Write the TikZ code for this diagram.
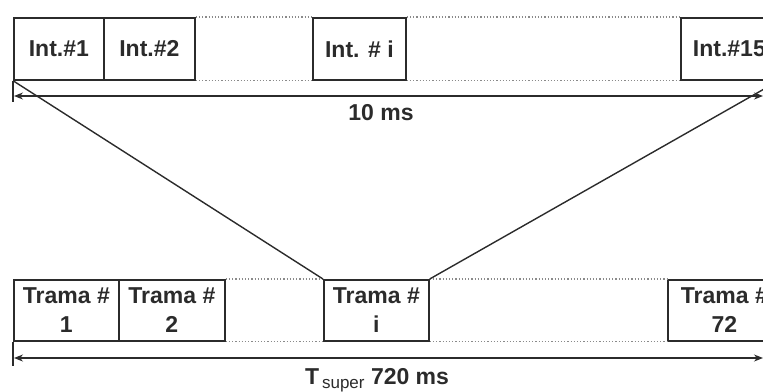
\documentclass[tikz,border=0pt]{standalone}
\usepackage{fontspec}
\setmainfont{Liberation Sans}
\usetikzlibrary{arrows.meta}
\definecolor{ink}{HTML}{2B2B2B}
\definecolor{dots}{HTML}{8A8A8A}
\begin{document}
\begin{tikzpicture}[x=1pt,y=-1pt,
  slot/.style={draw=ink, line width=1.7pt, minimum height=62pt, inner sep=0pt,
    anchor=north west, text=ink, align=center,
    font=\fontsize{23}{29}\selectfont\bfseries},
  gap/.style={draw=dots, line width=1.2pt, dotted},
  span/.style={draw=ink, line width=1.3pt,
    {Stealth[length=9pt,width=7pt]}-{Stealth[length=9pt,width=7pt]}},
  tick/.style={draw=ink, line width=1.3pt},
  fan/.style={draw=ink, line width=1.4pt},
  lbl/.style={text=ink, inner sep=0pt, font=\fontsize{23}{28}\selectfont\bfseries}]
\useasboundingbox (0,0) rectangle (763,391);
\clip (0,0) rectangle (763,391);

% intervals of one frame
\node[slot, minimum width=90pt] (i1)  at (13,17)  {Int.\#1};
\node[slot, minimum width=91pt] (i2)  at (103,17) {Int.\#2};
\node[slot, minimum width=93pt] (ii)  at (312,17) {Int. \# i};
\node[slot, minimum width=97pt] (i15) at (680,17) {Int.\#15};

% frames of the superframe
\node[slot, minimum width=105pt, minimum height=61pt] (t1)  at (13,279)  {Trama \#\\1};
\node[slot, minimum width=106pt, minimum height=61pt] (t2)  at (118,279) {Trama \#\\2};
\node[slot, minimum width=105pt, minimum height=61pt] (ti)  at (323,279) {Trama \#\\i};
\node[slot, minimum width=113pt, minimum height=61pt] (t72) at (667,279) {Trama \#\\72};

% dotted gaps between boxes
\draw[gap] (i2.north east) -- (ii.north west);
\draw[gap] (i2.south east) -- (ii.south west);
\draw[gap] (ii.north east) -- (i15.north west);
\draw[gap] (ii.south east) -- (i15.south west);
\draw[gap] (t2.north east) -- (ti.north west);
\draw[gap] (t2.south east) -- (ti.south west);
\draw[gap] (ti.north east) -- (t72.north west);
\draw[gap] (ti.south east) -- (t72.south west);

% expansion of frame i
\draw[fan] (i1.south west) -- (ti.north west);
\draw[fan] (i15.south east) -- (ti.north east);

% duration of one frame
\coordinate (k1) at (13,102);
\draw[tick] (i1.south west) -- (k1);
\coordinate (l1) at (14,96);
\coordinate (r1) at (763,96);
\draw[span] (l1) -- (r1);
\node[lbl] (d1) at (381,113) {10 ms};

% duration of the superframe
\coordinate (k2) at (13,366);
\draw[tick] (t1.south west) -- (k2);
\coordinate (l2) at (14,358);
\coordinate (r2) at (763,358);
\draw[span] (l2) -- (r2);
\node[lbl, anchor=base west] (d2) at (305,384)
  {T\raisebox{-4pt}{\fontsize{17}{17}\selectfont\mdseries\,super} 720 ms};
\end{tikzpicture}
\end{document}
